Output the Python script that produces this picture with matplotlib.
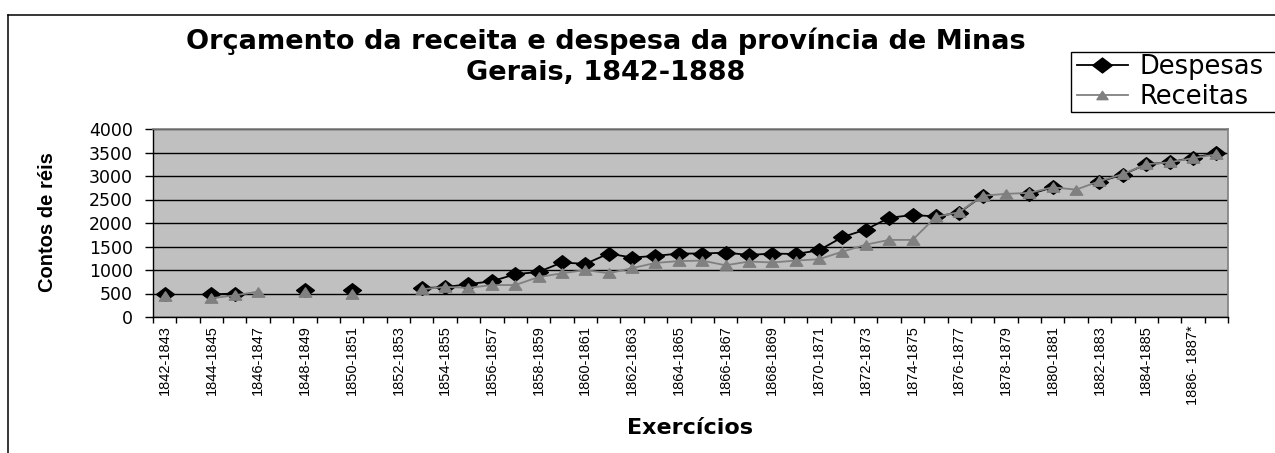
import numpy as np
import matplotlib
matplotlib.use("Agg")
import matplotlib.pyplot as plt
from matplotlib.path import Path
from matplotlib.lines import Line2D
from matplotlib.patches import Rectangle

nan = np.nan

categories = ["1842-1843", "1843-1844", "1844-1845", "1845-1846", "1846-1847",
              "1847-1848", "1848-1849", "1849-1850", "1850-1851", "1851-1852",
              "1852-1853", "1853-1854", "1854-1855", "1855-1856", "1856-1857",
              "1857-1858", "1858-1859", "1859-1860", "1860-1861", "1861-1862",
              "1862-1863", "1863-1864", "1864-1865", "1865-1866", "1866-1867",
              "1867-1868", "1868-1869", "1869-1870", "1870-1871", "1871-1872",
              "1872-1873", "1873-1874", "1874-1875", "1875-1876", "1876-1877",
              "1877-1878", "1878-1879", "1879-1880", "1880-1881", "1881-1882",
              "1882-1883", "1883-1884", "1884-1885", "1885-1886", "1886- 1887*",
              "1887-1888"]

despesas = [490, nan, 480, 500, nan, nan, 570, nan, 575, nan,
            nan, 615, 635, 700, 760, 910, 960, 1160, 1130, 1350,
            1265, 1300, 1350, 1350, 1370, 1320, 1350, 1340, 1420, 1700,
            1860, 2110, 2170, 2140, 2220, 2580, nan, 2610, 2760, nan,
            2880, 3030, 3250, 3290, 3390, 3480]

receitas = [440, nan, 400, 460, 540, nan, 530, nan, 480, nan,
            nan, 590, 640, 620, 680, 680, 850, 930, 1000, 930,
            1040, 1150, 1190, 1200, 1100, 1180, 1160, 1200, 1230, 1390,
            1540, 1640, 1640, 2130, 2230, 2580, 2620, 2640, 2760, 2710,
            2890, 3040, 3250, 3290, 3380, 3460]

y_ticks = [0, 500, 1000, 1500, 2000, 2500, 3000, 3500, 4000]

title = "Orçamento da receita e despesa da província de Minas\nGerais, 1842-1888"
x_label = "Exercícios"
y_label = "Contos de réis"
series_names = ["Despesas", "Receitas"]

W, H = 1275, 453
fig = plt.figure(figsize=(W / 100, H / 100), dpi=100)
fig.patch.set_facecolor("white")


def fx(px):
    return px / W


def fy(py):
    return 1 - py / H


# outer chart frame (cut off at right and bottom in the original)
fig.add_artist(Line2D([fx(8), fx(8)], [fy(15), fy(460)], color="black", lw=1.1))
fig.add_artist(Line2D([fx(8), fx(1280)], [fy(15), fy(15)], color="black", lw=1.1))

ax = fig.add_axes([fx(153), fy(317), fx(1228) - fx(153), fy(129) - fy(317)])
ax.set_facecolor("#C0C0C0")

diamond = Path([(-8.5, 0), (0, 6.5), (8.5, 0), (0, -6.5), (-8.5, 0)],
               [Path.MOVETO, Path.LINETO, Path.LINETO, Path.LINETO, Path.CLOSEPOLY])
triangle = Path([(-6, -4.5), (6, -4.5), (0, 4.5), (-6, -4.5)],
                [Path.MOVETO, Path.LINETO, Path.LINETO, Path.CLOSEPOLY])

x = np.arange(len(categories))
ax.plot(x, np.array(despesas, dtype=float), color="black", lw=1.3,
        marker=diamond, ms=12.8, mfc="black", mec="black", zorder=3)
ax.plot(x, np.array(receitas, dtype=float), color="#808080", lw=1.3,
        marker=triangle, ms=9, mfc="#808080", mec="#808080", zorder=4)

ax.set_xlim(-0.5, len(categories) - 0.5)
ax.set_ylim(0, 4000)
ax.set_yticks(y_ticks)
ax.set_yticklabels([str(v) for v in y_ticks], fontfamily="DejaVu Sans", fontsize=12.5)
ax.yaxis.grid(True, color="black", lw=1)
ax.set_axisbelow(True)
ax.tick_params(axis="y", direction="out", length=5.8, width=1, pad=8.5, color="black")

ax.set_xticks(x[::2])
ax.set_xticklabels(categories[::2], rotation=90, fontfamily="Liberation Sans",
                   fontsize=10.5, va="top", ha="center")
ax.set_xticks(np.arange(-0.5, len(categories), 1), minor=True)
ax.tick_params(axis="x", which="major", length=0, pad=6)
ax.tick_params(axis="x", which="minor", direction="out", length=4, width=1, color="black")

for side in ["left", "bottom"]:
    ax.spines[side].set_color("black")
    ax.spines[side].set_linewidth(1)
for side in ["top", "right"]:
    ax.spines[side].set_color("#808080")
    ax.spines[side].set_linewidth(1.2)

# titles and labels
fig.text(fx(606), fy(57), title, ha="center", va="center", fontsize=19.5,
         fontweight="bold", fontfamily="DejaVu Sans", linespacing=1.25)
fig.text(fx(690), fy(428), x_label, ha="center", va="center", fontsize=16,
         fontweight="bold", fontfamily="DejaVu Sans")
fig.text(fx(48), fy(222), y_label, ha="center", va="center", rotation=90,
         fontsize=14.5, fontweight="bold", fontfamily="Liberation Sans")

# legend (frame drawn separately: it runs past the right edge as in the original)
fig.add_artist(Rectangle((fx(1071), fy(112.3)), fx(1290) - fx(1071),
                         fy(51.7) - fy(112.3), transform=fig.transFigure,
                         facecolor="white", edgecolor="black", lw=1, zorder=4))
h1 = Line2D([], [], color="black", lw=1.3, marker=diamond, ms=14,
            mfc="black", mec="black")
h2 = Line2D([], [], color="#808080", lw=1.3, marker=triangle, ms=8,
            mfc="#808080", mec="#808080")
leg = fig.legend([h1, h2], series_names, loc="upper left",
                 bbox_to_anchor=(fx(1074), fy(51.5)), frameon=False,
                 borderaxespad=0,
                 prop={"family": "DejaVu Sans", "size": 18.5},
                 handlelength=2.0, handletextpad=0.45, borderpad=0.1,
                 labelspacing=0.15)
leg.set_zorder(5)

fig.savefig("out.png", dpi=100, facecolor="white")
